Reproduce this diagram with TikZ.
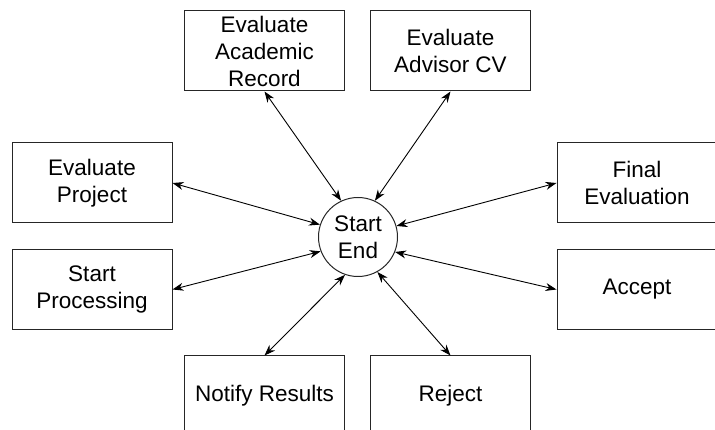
\documentclass[tikz,border=0pt]{standalone}
\usepackage{fontspec}
\setmainfont{Liberation Sans}
\usetikzlibrary{arrows.meta}
\begin{document}
\begin{tikzpicture}[x=1pt,y=-1pt,
  taskbox/.style={draw=black!85,line width=1pt,minimum width=160pt,minimum height=80pt,
    align=center,font=\fontsize{22.5}{27}\selectfont,inner sep=0pt},
  hub/.style={draw=black!85,line width=1pt,circle,minimum size=79pt,inner sep=0pt,
    align=center,font=\fontsize{22.5}{27}\selectfont},
  link/.style={line width=0.9pt,{Stealth[length=11pt,width=8pt]}-{Stealth[length=11pt,width=8pt]}}]
\useasboundingbox (0,0) rectangle (715,430);
\node[hub] (hub) at (358,237) {Start\\End};
\node[taskbox] (rec) at (264.5,51) {Evaluate\\Academic\\Record};
\node[taskbox] (cv) at (450.5,51) {Evaluate\\Advisor CV};
\node[taskbox] (proj) at (92,183) {Evaluate\\Project};
\node[taskbox] (sp) at (92,289.5) {Start\\Processing};
\node[taskbox] (fin) at (637,183) {Final\\Evaluation};
\node[taskbox] (acc) at (637,289.5) {Accept};
\node[taskbox] (notify) at (264.5,396) {Notify Results};
\node[taskbox] (rej) at (450.5,396) {Reject};
\draw[link] (rec.south) -- (hub.115);
\draw[link] (cv.south) -- (hub.65);
\draw[link] (proj.east) -- (hub.162);
\draw[link] (sp.east) -- (hub.201);
\draw[link] (fin.west) -- (hub.16);
\draw[link] (acc.west) -- (hub.338);
\draw[link] (notify.north) -- (hub.251);
\draw[link] (rej.north) -- (hub.299);
\end{tikzpicture}
\end{document}
